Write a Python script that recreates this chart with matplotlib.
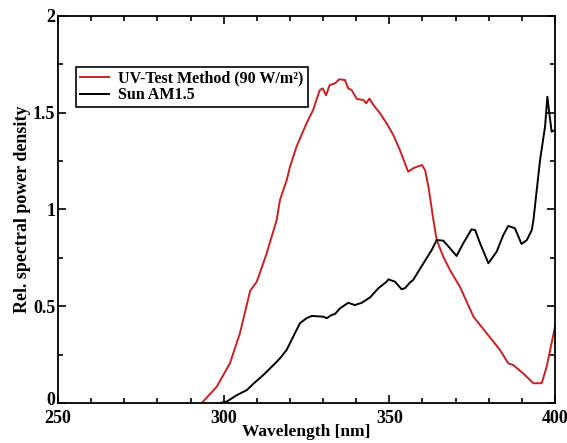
import matplotlib.pyplot as plt
import matplotlib.transforms as mtransforms
from matplotlib.ticker import MultipleLocator

# data
uv_wl = [293.4, 297.9, 301.9, 304.9, 308.0, 310.0, 313.0, 316.0, 317.0, 319.0, 320.0,
         322.0, 325.0, 327.0, 329.0, 329.9, 330.9, 332.0, 333.6, 334.9, 336.6, 337.6,
         338.6, 340.2, 342.2, 343.0, 344.0, 345.2, 347.2, 349.2, 351.2, 353.2, 355.7,
         357.2, 359.8, 360.8, 361.8, 363.3, 364.3, 366.3, 368.3, 371.3, 375.4, 379.4,
         383.4, 385.9, 387.4, 390.4, 393.5, 396.0, 397.5, 400.0]
uv_val = [0.0, 0.084, 0.205, 0.36, 0.58, 0.627, 0.774, 0.946, 1.05, 1.15, 1.22,
          1.325, 1.445, 1.514, 1.617, 1.626, 1.59, 1.643, 1.652, 1.673, 1.669, 1.626,
          1.618, 1.571, 1.566, 1.549, 1.573, 1.54, 1.497, 1.445, 1.385, 1.307, 1.195,
          1.213, 1.23, 1.204, 1.118, 0.946, 0.842, 0.756, 0.687, 0.601, 0.446, 0.36,
          0.274, 0.205, 0.196, 0.153, 0.102, 0.102, 0.188, 0.394]

sun_wl = [298.9, 300.9, 303.9, 307.0, 309.0, 312.0, 316.0, 317.0, 319.0, 321.0, 323.0,
          325.0, 326.6, 330.1, 331.1, 332.6, 333.6, 335.1, 337.6, 339.6, 341.7, 344.2,
          346.7, 349.2, 349.7, 351.7, 353.7, 354.7, 356.2, 357.2, 360.3, 362.8, 364.3,
          366.3, 368.3, 370.3, 372.3, 374.8, 375.9, 377.4, 379.9, 382.4, 384.4, 385.9,
          387.9, 389.9, 391.5, 393.0, 393.5, 395.5, 397.0, 397.7, 398.3, 399.0, 400.0]
sun_val = [0.0, 0.007, 0.04, 0.067, 0.1, 0.145, 0.213, 0.231, 0.274, 0.343, 0.412,
           0.438, 0.45, 0.446, 0.438, 0.455, 0.46, 0.489, 0.518, 0.506, 0.518, 0.546,
           0.593, 0.627, 0.639, 0.627, 0.588, 0.593, 0.622, 0.636, 0.722, 0.791, 0.842,
           0.839, 0.8, 0.76, 0.825, 0.897, 0.894, 0.825, 0.722, 0.782, 0.868, 0.915,
           0.903, 0.822, 0.842, 0.894, 0.946, 1.256, 1.428, 1.583, 1.497, 1.402, 1.411]

plt.rcParams['font.family'] = 'Liberation Serif'
plt.rcParams['font.weight'] = 'bold'

fig = plt.figure(figsize=(5.67, 4.43), dpi=100)
ax = fig.add_axes([0.1023, 0.0903, 0.8765, 0.8736])

ax.plot(uv_wl, uv_val, color='#cc2020', lw=1.4, label='UV-Test Method (90 W/m²)')
ax.plot(sun_wl, sun_val, color='black', lw=1.4, label='Sun AM1.5')

ax.set_xlim(250, 400)
ax.set_ylim(0, 2)
ax.xaxis.set_major_locator(MultipleLocator(50))
ax.xaxis.set_minor_locator(MultipleLocator(10))
ax.yaxis.set_major_locator(MultipleLocator(0.5))
ax.yaxis.set_minor_locator(MultipleLocator(0.25))
ax.set_yticks([0, 0.5, 1, 1.5, 2])
ax.set_yticklabels(['0', '0.5', '1', '1.5', '2'])

ax.tick_params(which='both', direction='in', top=True, right=True, width=1.2,
               labelsize=13)
ax.tick_params(which='major', length=6)
ax.tick_params(which='minor', length=3.5)
ax.tick_params(axis='y', pad=2)
ax.tick_params(axis='x', pad=5)
for sp in ax.spines.values():
    sp.set_linewidth(1.3)

# nudge the y "0" up a little so it does not sit on the "250"
zero_lbl = ax.get_yticklabels()[0]
zero_lbl.set_transform(zero_lbl.get_transform() +
                       mtransforms.ScaledTranslation(0, 3 / 72, fig.dpi_scale_trans))

ax.set_xlabel('Wavelength [nm]', fontsize=12.5, fontweight='bold')
ax.xaxis.set_label_coords(0.5, -0.055)
ax.set_ylabel('Rel. spectral power density', fontsize=13, fontweight='bold', labelpad=1)

leg = ax.legend(loc='upper left', bbox_to_anchor=(0.036, 0.869), fontsize=11.5,
                frameon=True, fancybox=False, framealpha=1, edgecolor='black',
                borderpad=0.25, labelspacing=0.05, handlelength=1.8, handletextpad=0.6,
                borderaxespad=0)
leg.get_frame().set_linewidth(1.2)

fig.savefig('out.png', dpi=100)
